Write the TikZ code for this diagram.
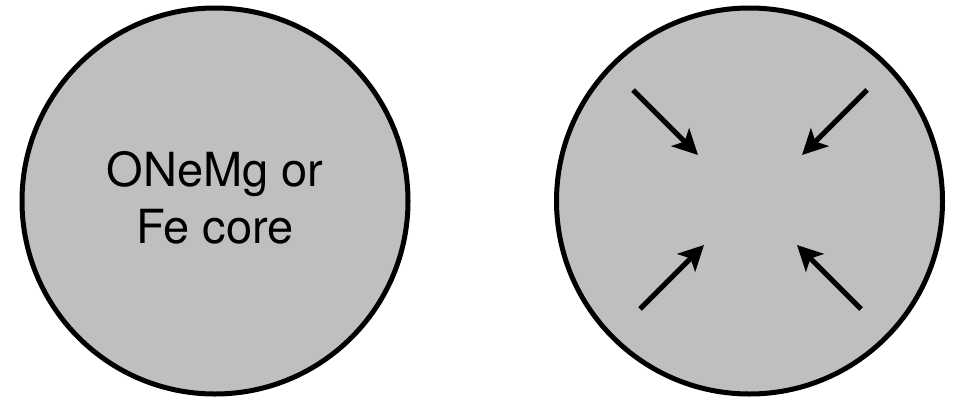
\documentclass[tikz,border=0pt]{standalone}
\usepackage{fontspec}
\setmainfont{TeX Gyre Heros}
\usetikzlibrary{arrows.meta}
\begin{document}
\begin{tikzpicture}[x=1pt,y=-1pt,
  core/.style={circle,draw=black,fill=black!25,line width=5pt,minimum size=386pt,inner sep=0pt},
  inarrow/.style={line width=5pt,-{Stealth[length=25pt,width=25pt,inset=6pt]}}]
\useasboundingbox (0,0) rectangle (955,397);
\node[core] (left) at (215,201) {};
\node[core] (right) at (749.5,201) {};
\node[font=\fontsize{47}{57}\selectfont,align=center] (label) at (215,198) {ONeMg or\\Fe core};
\coordinate (a1) at (633,90); \coordinate (t1) at (698,155);
\coordinate (a2) at (867,90); \coordinate (t2) at (802,155);
\coordinate (a3) at (640,309); \coordinate (t3) at (704,245);
\coordinate (a4) at (861,309); \coordinate (t4) at (797,245);
\draw[inarrow] (a1) -- (t1);
\draw[inarrow] (a2) -- (t2);
\draw[inarrow] (a3) -- (t3);
\draw[inarrow] (a4) -- (t4);
\end{tikzpicture}
\end{document}
